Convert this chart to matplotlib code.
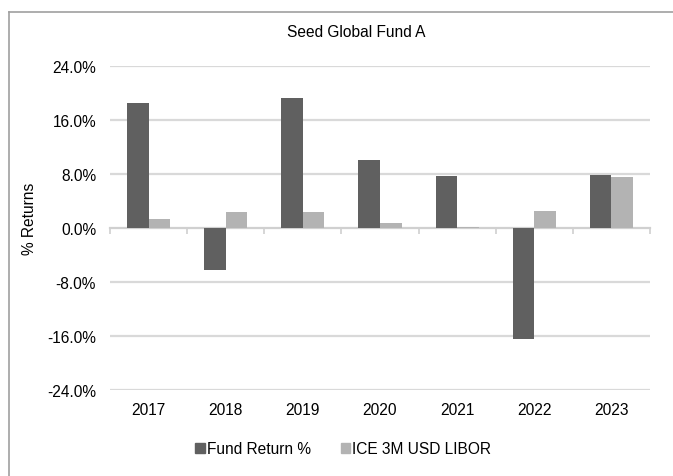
import matplotlib
matplotlib.use("Agg")
import matplotlib.pyplot as plt
from matplotlib.lines import Line2D
from matplotlib.patches import Patch
import numpy as np

plt.rcParams['font.family'] = ['Liberation Sans', 'DejaVu Sans']

years = ['2017', '2018', '2019', '2020', '2021', '2022', '2023']
fund_return = [18.5, -6.2, 19.3, 10.1, 7.7, -16.5, 7.85]
libor = [1.3, 2.4, 2.4, 0.7, 0.1, 2.5, 7.55]
yticks = [-24, -16, -8, 0, 8, 16, 24]

dark = '#606060'
light = '#b3b3b3'
grid = '#d9d9d9'
fs = 11.2

fig = plt.figure(figsize=(6.73, 4.77), dpi=100)
ax = fig.add_axes([110 / 673, 1 - 391 / 477, 540 / 673, 324 / 477])

x = np.arange(len(years))
w = 0.28
ax.bar(x - w / 2, fund_return, w, color=dark, zorder=3)
ax.bar(x + w / 2, libor, w, color=light, zorder=3)

ax.set_xlim(-0.5, len(years) - 0.5)
ax.set_ylim(-24, 24)
ax.set_yticks(yticks)
ax.set_yticklabels(['%.1f%%' % v for v in yticks])
ax.tick_params(axis='y', length=0, pad=10, labelsize=fs, colors='black')
for v in yticks:
    if v != 0:
        ax.axhline(v, color=grid, lw=1.6, zorder=1)

for s in ['top', 'right', 'left']:
    ax.spines[s].set_visible(False)
ax.spines['bottom'].set_position(('data', 0))
ax.spines['bottom'].set_color('#d0d0d0')
ax.spines['bottom'].set_linewidth(1.6)
ax.spines['bottom'].set_zorder(2)
ax.set_xticks(np.arange(len(years) + 1) - 0.5)
ax.set_xticklabels([])
ax.tick_params(axis='x', length=4, width=1.2, color='#d0d0d0', direction='out')

sec = ax.secondary_xaxis(0.0)
sec.set_xticks(x)
sec.set_xticklabels(years)
sec.tick_params(length=0, pad=9, labelsize=fs)
sec.spines['bottom'].set_visible(False)

ax.set_ylabel('% Returns', fontsize=fs)
ax.yaxis.set_label_coords(-0.135, 0.53)

fig.text(0.529, 0.931, 'Seed Global Fund A', ha='center', va='center', fontsize=fs)

handles = [Patch(color=dark), Patch(color=light)]
fig.legend(handles, ['Fund Return %', 'ICE 3M USD LIBOR'], loc='center',
           bbox_to_anchor=(0.51, 0.057), ncol=2, frameon=False, fontsize=fs,
           handlelength=0.6, handleheight=0.6, handletextpad=0.15, columnspacing=1.9)

fig.add_artist(Line2D([8.5 / 673, 8.5 / 673], [0, 1 - 13 / 477], color='#a0a0a0', lw=1.2))
fig.add_artist(Line2D([8.5 / 673, 1], [1 - 13 / 477, 1 - 13 / 477], color='#a0a0a0', lw=1.2))

fig.savefig('out.png', dpi=100)
